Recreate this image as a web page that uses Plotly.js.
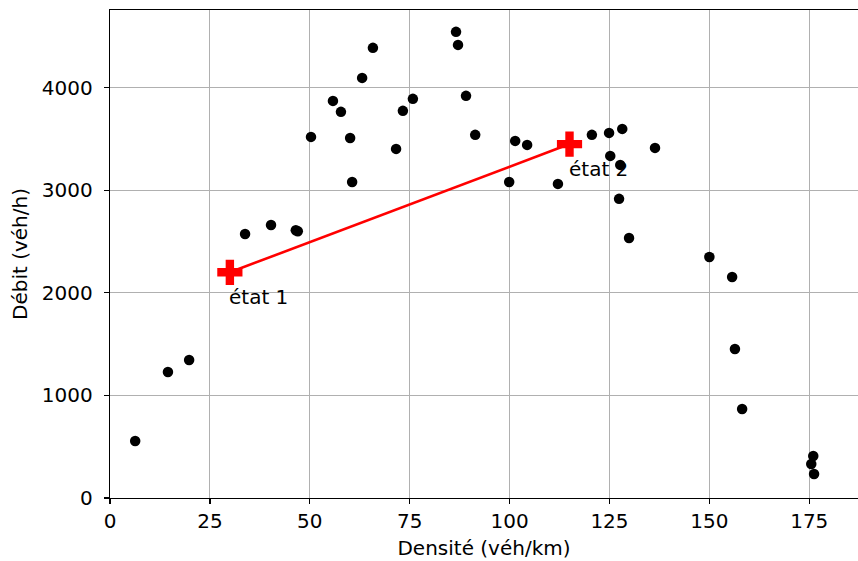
<!DOCTYPE html>
<html>
<head>
<meta charset="utf-8">
<script src="https://cdn.plot.ly/plotly-3.0.1.min.js"></script>
<style>html,body{margin:0;padding:0;background:#fff;}#chart{width:858px;height:561px;}</style>
</head>
<body>
<div id="chart"></div>
<script>
const densite = [6.3, 14.5, 19.8, 33.8, 40.3, 46.5, 47.0, 50.3, 55.8, 57.8, 60.1, 60.6, 63.1, 65.8, 71.6, 73.3, 75.8, 86.6, 87.1, 89.1, 91.4, 99.9, 101.4, 104.4, 112.1, 120.6, 124.9, 125.2, 128.2, 127.7, 127.4, 129.9, 136.4, 150.0, 155.7, 156.4, 158.2, 176.0, 175.5, 176.2];
const debit = [556, 1229, 1346, 2574, 2662, 2610, 2600, 3520, 3871, 3764, 3510, 3081, 4095, 4388, 3403, 3774, 3891, 4544, 4417, 3920, 3540, 3081, 3481, 3442, 3062, 3540, 3559, 3335, 3598, 3247, 2916, 2535, 3413, 2350, 2155, 1453, 868, 410, 332, 234];
const etatX = [30, 115];
const etatY = [2200, 3450];
const etatLabels = ["état 1", "état 2"];
const xTicks = [0, 25, 50, 75, 100, 125, 150, 175];
const yTicks = [0, 1000, 2000, 3000, 4000];

const font = {family: "DejaVu Sans", size: 20, color: "#000"};

const traces = [
  {x: densite, y: debit, type: "scatter", mode: "markers",
   marker: {color: "#000", size: 10.5}, hoverinfo: "none", showlegend: false},
  {x: etatX, y: etatY, type: "scatter", mode: "lines+markers",
   line: {color: "#ff0000", width: 2.6},
   marker: {color: "#ff0000", symbol: "cross", size: 21}, showlegend: false}
];

const annotations = etatX.map((x, i) => ({
  x: x, y: etatY[i], text: etatLabels[i], showarrow: false,
  xanchor: "left", yanchor: "middle", xshift: -3, yshift: -25,
  font: font
}));

const layout = {
  width: 858, height: 561,
  margin: {l: 110, r: 0, t: 10, b: 63},
  paper_bgcolor: "#fff", plot_bgcolor: "#fff",
  font: font,
  xaxis: {
    range: [0, 187.2], tickvals: xTicks, ticktext: xTicks.map(String),
    showgrid: true, gridcolor: "#b0b0b0", gridwidth: 1,
    zeroline: false, showline: true, linecolor: "#000", linewidth: 1.3, mirror: true,
    ticks: "outside", ticklen: 5, tickwidth: 1.3, tickcolor: "#000",
    tickfont: font,
    title: {text: "Densité (véh/km)", font: font, standoff: 8}
  },
  yaxis: {
    range: [0, 4757], tickvals: yTicks, ticktext: yTicks.map(String),
    showgrid: true, gridcolor: "#b0b0b0", gridwidth: 1,
    zeroline: false, showline: true, linecolor: "#000", linewidth: 1.3,
    ticks: "outside", ticklen: 5, tickwidth: 1.3, tickcolor: "#000",
    ticklabelstandoff: 7,
    tickfont: font,
    title: {text: "Débit (véh/h)", font: font, standoff: 8}
  },
  annotations: annotations
};

Plotly.newPlot("chart", traces, layout, {staticPlot: true, displayModeBar: false});
</script>
</body>
</html>
